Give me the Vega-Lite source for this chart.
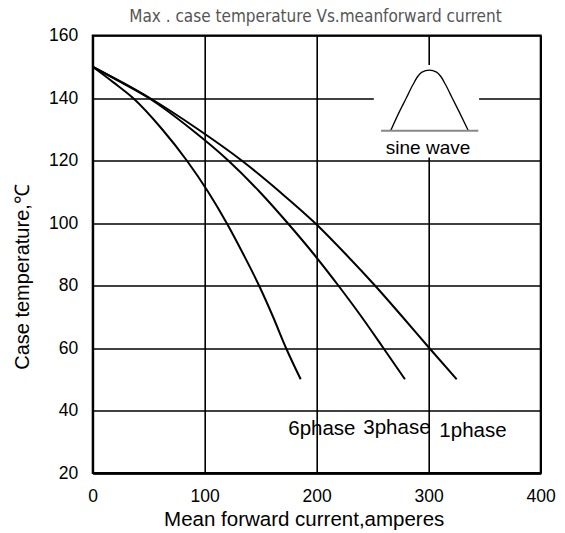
{
  "$schema": "https://vega.github.io/schema/vega-lite/v6.json",
  "autosize": {"type": "none"},
  "padding": {"left": 92.7, "top": 35.5, "right": 24.3, "bottom": 60},
  "width": 448,
  "height": 437.5,
  "background": "white",
  "config": {
    "view": {"stroke": "#000000", "strokeWidth": 2},
    "axis": {
      "grid": true,
      "gridColor": "#000000",
      "gridOpacity": 1,
      "gridWidth": 1.6,
      "domainColor": "#000000",
      "domainWidth": 2,
      "ticks": false,
      "labelFont": "Liberation Sans",
      "labelFontSize": 17.5,
      "labelColor": "#000000",
      "titleFont": "Liberation Sans",
      "titleFontSize": 20,
      "titleFontWeight": "normal",
      "titleColor": "#000000"
    },
    "text": {"font": "Liberation Sans"}
  },
  "encoding": {
    "x": {
      "field": "x", "type": "quantitative",
      "scale": {"domain": [0, 400], "nice": false, "zero": false},
      "axis": {
        "values": [0, 100, 200, 300, 400],
        "title": "Mean  forward current,amperes",
        "labelPadding": 14,
        "labelFlush": false,
        "titleX": 211,
        "titleY": 46,
        "titleBaseline": "middle",
        "titleFontSize": 20.5
      }
    },
    "y": {
      "field": "y", "type": "quantitative",
      "scale": {"domain": [20, 160], "nice": false, "zero": false},
      "axis": {
        "values": [20, 40, 60, 80, 100, 120, 140, 160],
        "title": "Case temperature,℃",
        "labelPadding": 15,
        "labelFlush": false,
        "titleX": -70.7,
        "titleY": 241,
        "titleBaseline": "middle",
        "titleAngle": -90,
        "titleFontSize": 20
      }
    }
  },
  "layer": [
    {
      "data": {"values": [{"x": 251, "x2": 345, "y": 121, "y2": 150.6}]},
      "mark": {"type": "rect", "fill": "white", "stroke": null},
      "encoding": {"x2": {"field": "x2"}, "y2": {"field": "y2"}}
    },
    {
      "data": {"values": [
        {"phase": "6phase", "x": 0, "y": 150},
        {"phase": "6phase", "x": 18.5, "y": 145},
        {"phase": "6phase", "x": 36, "y": 140},
        {"phase": "6phase", "x": 62, "y": 130},
        {"phase": "6phase", "x": 84, "y": 120},
        {"phase": "6phase", "x": 103, "y": 110},
        {"phase": "6phase", "x": 119.6, "y": 100},
        {"phase": "6phase", "x": 134.5, "y": 90},
        {"phase": "6phase", "x": 148.5, "y": 80},
        {"phase": "6phase", "x": 161, "y": 70},
        {"phase": "6phase", "x": 172.6, "y": 60},
        {"phase": "6phase", "x": 185.7, "y": 50},
        {"phase": "3phase", "x": 0, "y": 150},
        {"phase": "3phase", "x": 25.5, "y": 145},
        {"phase": "3phase", "x": 50, "y": 140},
        {"phase": "3phase", "x": 88, "y": 130},
        {"phase": "3phase", "x": 121, "y": 120},
        {"phase": "3phase", "x": 149, "y": 110},
        {"phase": "3phase", "x": 174, "y": 100},
        {"phase": "3phase", "x": 197.5, "y": 90},
        {"phase": "3phase", "x": 219.3, "y": 80},
        {"phase": "3phase", "x": 240, "y": 70},
        {"phase": "3phase", "x": 259.5, "y": 60},
        {"phase": "3phase", "x": 278.8, "y": 50},
        {"phase": "1phase", "x": 0, "y": 150},
        {"phase": "1phase", "x": 26.5, "y": 145},
        {"phase": "1phase", "x": 51, "y": 140},
        {"phase": "1phase", "x": 94, "y": 130},
        {"phase": "1phase", "x": 133, "y": 120},
        {"phase": "1phase", "x": 167, "y": 110},
        {"phase": "1phase", "x": 198.5, "y": 100},
        {"phase": "1phase", "x": 226, "y": 90},
        {"phase": "1phase", "x": 252, "y": 80},
        {"phase": "1phase", "x": 276.5, "y": 70},
        {"phase": "1phase", "x": 300.5, "y": 60},
        {"phase": "1phase", "x": 325, "y": 50}
      ]},
      "mark": {"type": "line", "color": "#000000", "strokeWidth": 2, "interpolate": "monotone"},
      "encoding": {"detail": {"field": "phase"}}
    },
    {
      "data": {"values": [
        {"x": 266, "y": 129.5},
        {"x": 273, "y": 135},
        {"x": 280, "y": 140},
        {"x": 286, "y": 144.3},
        {"x": 290, "y": 146.8},
        {"x": 294, "y": 148.3},
        {"x": 300.5, "y": 148.9},
        {"x": 307, "y": 148.3},
        {"x": 311, "y": 146.8},
        {"x": 315, "y": 144.3},
        {"x": 321, "y": 140},
        {"x": 328, "y": 135},
        {"x": 335.4, "y": 129.5}
      ]},
      "mark": {"type": "line", "color": "#000000", "strokeWidth": 1.3, "interpolate": "monotone"},
      "encoding": {}
    },
    {
      "data": {"values": [{"x": 257.4, "x2": 344.3, "y": 129.5}]},
      "mark": {"type": "rule", "color": "#888888", "strokeWidth": 2},
      "encoding": {"x2": {"field": "x2"}}
    },
    {
      "data": {"values": [{"x": 299.4, "y": 124, "label": "sine wave"}]},
      "mark": {"type": "text", "fontSize": 19, "align": "center", "baseline": "middle", "color": "#000000"},
      "encoding": {"text": {"field": "label"}}
    },
    {
      "data": {"values": [
        {"x": 174.6, "y": 34, "label": "6phase"},
        {"x": 241.6, "y": 34.3, "label": "3phase"},
        {"x": 309.5, "y": 33.5, "label": "1phase"}
      ]},
      "mark": {"type": "text", "fontSize": 20.5, "align": "left", "baseline": "middle", "color": "#000000"},
      "encoding": {"text": {"field": "label"}}
    },
    {
      "data": {"values": [{"x": 198.9, "y": 165.9, "label": "Max . case temperature Vs.meanforward current"}]},
      "mark": {"type": "text", "fontSize": 17, "align": "center", "baseline": "middle", "color": "#555555", "font": "Liberation Sans Narrow, DejaVu Sans Condensed, Liberation Sans"},
      "encoding": {"text": {"field": "label"}}
    }
  ]
}
